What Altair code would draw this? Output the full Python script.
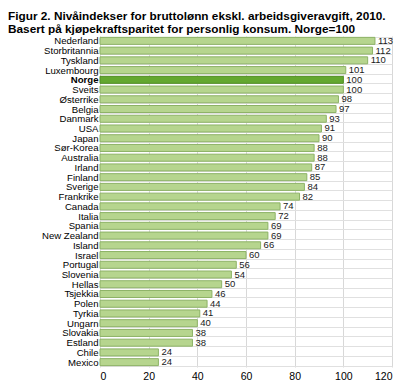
import altair as alt
import pandas as pd

countries = ["Nederland", "Storbritannia", "Tyskland", "Luxembourg", "Norge", "Sveits",
             "Østerrike", "Belgia", "Danmark", "USA", "Japan", "Sør-Korea", "Australia",
             "Irland", "Finland", "Sverige", "Frankrike", "Canada", "Italia", "Spania",
             "New Zealand", "Island", "Israel", "Portugal", "Slovenia", "Hellas",
             "Tsjekkia", "Polen", "Tyrkia", "Ungarn", "Slovakia", "Estland", "Chile", "Mexico"]
values = [113, 112, 110, 101, 100, 100, 98, 97, 93, 91, 90, 88, 88, 87, 85, 84, 82,
          74, 72, 69, 69, 66, 60, 56, 54, 50, 46, 44, 41, 40, 38, 38, 24, 24]
x_ticks = [0, 20, 40, 60, 80, 100, 120]
title_lines = ["Figur 2. Nivåindekser for bruttolønn ekskl. arbeidsgiveravgift, 2010.",
               "Basert på kjøpekraftsparitet for personlig konsum. Norge=100"]

df = pd.DataFrame({"land": countries, "indeks": values})
df["hl"] = df["land"] == "Norge"

FONT = "Liberation Sans"

y = alt.Y("land:N", sort=countries, title=None,
          scale=alt.Scale(paddingInner=0.28, paddingOuter=0.14),
          axis=alt.Axis(tickBand="extent", grid=True, gridColor="#e0e0e0", gridWidth=1,
                        ticks=False, domain=False, labelFont=FONT, labelFontSize=9.6,
                        labelColor="#000000", labelPadding=2,
                        labelFontWeight=alt.ExprRef(expr="datum.value == 'Norge' ? 'bold' : 'normal'")))
x = alt.X("indeks:Q", title=None,
          scale=alt.Scale(domain=[0, 120], nice=False),
          axis=alt.Axis(values=x_ticks, grid=True, gridColor="#d8d8d8", ticks=False,
                        domain=False, labelFont=FONT, labelFontSize=10.5,
                        labelColor="#000000", labelPadding=4))

bars = alt.Chart(df).mark_bar(strokeWidth=1).encode(
    y=y, x=x,
    color=alt.condition("datum.hl", alt.value("#64a830"), alt.value("#b6d58e")),
    stroke=alt.condition("datum.hl", alt.value("#4f8d22"), alt.value("#8db266")),
)

labels = alt.Chart(df).mark_text(align="left", baseline="middle", dx=3, font=FONT,
                                 fontSize=9.5, color="#1a1a1a").encode(
    y=alt.Y("land:N", sort=countries), x="indeks:Q", text="indeks:Q")

chart = alt.layer(bars, labels).properties(
    width=292, height=331,
    padding={"left": 92, "top": 28, "right": 2, "bottom": 14},
    autosize=alt.AutoSizeParams(type="none"),
    title=alt.TitleParams(text=title_lines, anchor="start", frame="group", dx=-92,
                          dy=4.5, offset=0, font=FONT, fontSize=11.8, fontWeight="bold",
                          lineHeight=12.5, color="#000000"),
).configure_view(stroke=None)

chart.save("out.html", embed_options={"renderer": "svg", "actions": False})
